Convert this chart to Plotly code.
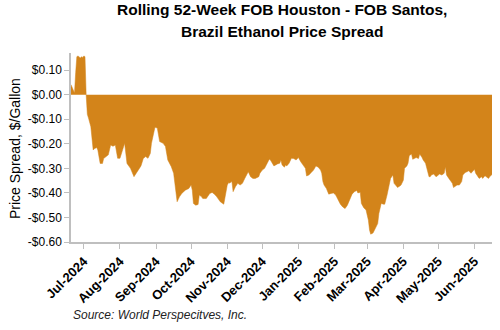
import plotly.graph_objects as go

dates = [
    "2024-06-20", "2024-06-21", "2024-06-22", "2024-06-23", "2024-06-24", "2024-06-25",
    "2024-06-26", "2024-06-27", "2024-06-28", "2024-06-29", "2024-06-30", "2024-07-01",
    "2024-07-02", "2024-07-03", "2024-07-04", "2024-07-05", "2024-07-07", "2024-07-09",
    "2024-07-10", "2024-07-12", "2024-07-13", "2024-07-15", "2024-07-17", "2024-07-18",
    "2024-07-20", "2024-07-22", "2024-07-24", "2024-07-26", "2024-07-28", "2024-07-30",
    "2024-08-01", "2024-08-03", "2024-08-05", "2024-08-07", "2024-08-10", "2024-08-13",
    "2024-08-16", "2024-08-19", "2024-08-21", "2024-08-23", "2024-08-25", "2024-08-27",
    "2024-08-28", "2024-08-30", "2024-08-31", "2024-09-02", "2024-09-03", "2024-09-04",
    "2024-09-07", "2024-09-09", "2024-09-11", "2024-09-14", "2024-09-16", "2024-09-17",
    "2024-09-19", "2024-09-21", "2024-09-23", "2024-09-26", "2024-09-29", "2024-10-01",
    "2024-10-02", "2024-10-03", "2024-10-05", "2024-10-07", "2024-10-08", "2024-10-10",
    "2024-10-11", "2024-10-14", "2024-10-17", "2024-10-19", "2024-10-21", "2024-10-23",
    "2024-10-26", "2024-10-29", "2024-10-30", "2024-11-01", "2024-11-02", "2024-11-03",
    "2024-11-05", "2024-11-06", "2024-11-08", "2024-11-10", "2024-11-12", "2024-11-14",
    "2024-11-16", "2024-11-19", "2024-11-21", "2024-11-23", "2024-11-25", "2024-11-28",
    "2024-11-29", "2024-12-01", "2024-12-03", "2024-12-05", "2024-12-07", "2024-12-08",
    "2024-12-10", "2024-12-11", "2024-12-14", "2024-12-16", "2024-12-17", "2024-12-18",
    "2024-12-20", "2024-12-21", "2024-12-22", "2024-12-24", "2024-12-26", "2024-12-28",
    "2024-12-30", "2025-01-01", "2025-01-03", "2025-01-05", "2025-01-07", "2025-01-08",
    "2025-01-10", "2025-01-12", "2025-01-14", "2025-01-16", "2025-01-18", "2025-01-20",
    "2025-01-21", "2025-01-22", "2025-01-23", "2025-01-25", "2025-01-27", "2025-01-29",
    "2025-01-31", "2025-02-02", "2025-02-04", "2025-02-06", "2025-02-08", "2025-02-10",
    "2025-02-12", "2025-02-14", "2025-02-16", "2025-02-18", "2025-02-20", "2025-02-21",
    "2025-02-23", "2025-02-24", "2025-02-26", "2025-02-28", "2025-03-02", "2025-03-03",
    "2025-03-04", "2025-03-06", "2025-03-08", "2025-03-10", "2025-03-11", "2025-03-13",
    "2025-03-15", "2025-03-16", "2025-03-18", "2025-03-20", "2025-03-21", "2025-03-23",
    "2025-03-24", "2025-03-26", "2025-03-27", "2025-03-29", "2025-03-30", "2025-04-01",
    "2025-04-02", "2025-04-04", "2025-04-05", "2025-04-06", "2025-04-08", "2025-04-09",
    "2025-04-11", "2025-04-12", "2025-04-14", "2025-04-15", "2025-04-17", "2025-04-18",
    "2025-04-20", "2025-04-21", "2025-04-23", "2025-04-24", "2025-04-25", "2025-04-27",
    "2025-04-29", "2025-04-30", "2025-05-02", "2025-05-04", "2025-05-06", "2025-05-07",
    "2025-05-08", "2025-05-10", "2025-05-11", "2025-05-13", "2025-05-14", "2025-05-15",
    "2025-05-17", "2025-05-19", "2025-05-21", "2025-05-22", "2025-05-24", "2025-05-26",
    "2025-05-27", "2025-05-29", "2025-05-30", "2025-06-01", "2025-06-02", "2025-06-04",
    "2025-06-05", "2025-06-07", "2025-06-08", "2025-06-10", "2025-06-11", "2025-06-13",
    "2025-06-14", "2025-06-15", "2025-06-16",
]

spread = [
    0.041, 0.030, 0.015, 0.007, 0.090, 0.155,
    0.158, 0.152, 0.150, 0.155, 0.152, 0.158,
    0.155, 0.000, -0.080, -0.095, -0.130, -0.225,
    -0.220, -0.215, -0.225, -0.280, -0.280, -0.260,
    -0.252, -0.245, -0.205, -0.210, -0.205, -0.259,
    -0.259, -0.225, -0.198, -0.280, -0.300, -0.334,
    -0.310, -0.290, -0.260, -0.252, -0.259, -0.239,
    -0.198, -0.143, -0.132, -0.136, -0.170, -0.191,
    -0.198, -0.211, -0.266, -0.293, -0.320, -0.361,
    -0.436, -0.416, -0.402, -0.389, -0.382, -0.368,
    -0.389, -0.443, -0.450, -0.447, -0.409, -0.416,
    -0.423, -0.423, -0.402, -0.398, -0.405, -0.416,
    -0.436, -0.446, -0.416, -0.368, -0.359, -0.360,
    -0.354, -0.395, -0.375, -0.361, -0.368, -0.361,
    -0.341, -0.314, -0.334, -0.341, -0.341, -0.334,
    -0.320, -0.307, -0.300, -0.279, -0.263, -0.266,
    -0.286, -0.290, -0.282, -0.279, -0.266, -0.286,
    -0.295, -0.286, -0.290, -0.279, -0.259, -0.260,
    -0.266, -0.256, -0.273, -0.286, -0.300, -0.331,
    -0.327, -0.317, -0.307, -0.290, -0.295, -0.307,
    -0.320, -0.354, -0.368, -0.382, -0.405, -0.402,
    -0.400, -0.409, -0.429, -0.446, -0.457, -0.464,
    -0.450, -0.423, -0.405, -0.395, -0.390, -0.400,
    -0.397, -0.443, -0.460, -0.470, -0.511, -0.552,
    -0.568, -0.563, -0.545, -0.525, -0.484, -0.443,
    -0.446, -0.446, -0.409, -0.368, -0.341, -0.327,
    -0.361, -0.372, -0.378, -0.372, -0.368, -0.348,
    -0.300, -0.290, -0.279, -0.249, -0.241, -0.263,
    -0.260, -0.256, -0.260, -0.241, -0.256, -0.266,
    -0.279, -0.300, -0.334, -0.334, -0.327, -0.323,
    -0.334, -0.331, -0.323, -0.327, -0.320, -0.293,
    -0.327, -0.341, -0.348, -0.361, -0.378, -0.375,
    -0.368, -0.368, -0.354, -0.327, -0.317, -0.313,
    -0.310, -0.320, -0.313, -0.304, -0.320, -0.338,
    -0.341, -0.334, -0.341, -0.330, -0.334, -0.341,
    -0.334, -0.327, -0.325,
]

y_tick_values = [0.10, 0.00, -0.10, -0.20, -0.30, -0.40, -0.50, -0.60]
y_tick_labels = ["$0.10", "$0.00", "-$0.10", "-$0.20", "-$0.30", "-$0.40", "-$0.50", "-$0.60"]

title_lines = ["Rolling 52-Week FOB Houston - FOB Santos,", "Brazil Ethanol Price Spread"]
y_title = "Price Spread, $/Gallon"
source_text = "Source: World Perspecitves, Inc."

fill_color = "#D3841A"
axis_color = "#BFBFBF"
font_family = "Liberation Sans, Arial, sans-serif"

# plot area in pixels (for placing annotations)
PLOT_TOP, PLOT_BOTTOM = 53, 242
PLOT_H = PLOT_BOTTOM - PLOT_TOP


def py(y_px):
    return (PLOT_BOTTOM - y_px) / PLOT_H


fig = go.Figure()
fig.add_trace(go.Scatter(
    x=dates, y=spread, mode="lines", fill="tozeroy",
    fillcolor=fill_color, line=dict(color=fill_color, width=0.5),
    showlegend=False, hoverinfo="skip",
))

fig.update_layout(
    width=500, height=330,
    margin=dict(l=71, r=8, t=PLOT_TOP, b=330 - PLOT_BOTTOM),
    paper_bgcolor="white", plot_bgcolor="white",
    font=dict(family=font_family, color="#000000"),
    showlegend=False,
)

fig.update_xaxes(
    type="date",
    range=[dates[0], dates[-1]],
    tick0="2024-07-01", dtick="M1", tickformat="%b-%Y",
    tickangle=-45,
    tickfont=dict(size=13, family=font_family, color="#000000", weight="bold"),
    ticks="outside", ticklen=5, tickcolor=axis_color, tickwidth=1,
    showline=True, linecolor=axis_color, linewidth=1.5,
    showgrid=False, zeroline=False, automargin=False,
)

fig.update_yaxes(
    range=[-0.6, 0.17],
    tickvals=y_tick_values, ticktext=y_tick_labels,
    tickfont=dict(size=12, family=font_family, color="#000000"),
    ticks="outside", ticklen=5, tickcolor=axis_color, tickwidth=1,
    showline=True, linecolor=axis_color, linewidth=1.5,
    showgrid=False, zeroline=False, automargin=False,
)

for line_text, y_px in zip(title_lines, [9, 32]):
    fig.add_annotation(
        text="<b>" + line_text + "</b>",
        xref="paper", yref="paper", x=0.5, y=py(y_px),
        xanchor="center", yanchor="middle", showarrow=False,
        font=dict(size=15.5, family=font_family, color="#000000"),
    )

fig.add_annotation(
    text=y_title, textangle=-90,
    xref="paper", yref="paper", x=-0.133, y=py(149),
    xanchor="center", yanchor="middle", showarrow=False,
    font=dict(size=14, family=font_family, color="#000000"),
)

fig.add_annotation(
    text="<i>" + source_text + "</i>",
    xref="paper", yref="paper", x=0.0, y=py(315),
    xanchor="left", yanchor="middle", showarrow=False,
    font=dict(size=12, family=font_family, color="#222222"),
)

fig.write_html("out.html")
